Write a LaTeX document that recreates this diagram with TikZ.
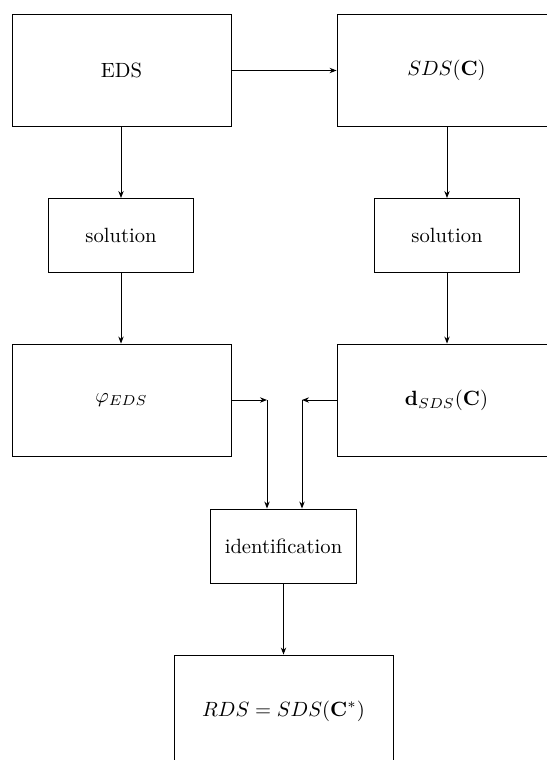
\documentclass[tikz,border=0pt]{standalone}
\usepackage{amsmath}
\usetikzlibrary{arrows.meta}
\begin{document}
\begin{tikzpicture}[x=0.485pt,y=-0.485pt,
  bigbox/.style={draw, line width=0.45pt, minimum width=106.2pt, minimum height=54.3pt, inner sep=0pt},
  smallbox/.style={draw, line width=0.45pt, minimum width=70.6pt, minimum height=35.9pt, inner sep=0pt},
  conn/.style={line width=0.45pt, -{Stealth[length=3.4pt,width=2.6pt]}}]
\clip (0,0) rectangle (547,760);
\node[bigbox] (eds) at (121.5,70.5) {EDS};
\node[bigbox] (sds) at (446.5,70.5) {$SDS(\mathbf{C})$};
\node[smallbox] (solL) at (121,235.5) {solution};
\node[smallbox] (solR) at (447,235.5) {solution};
\node[bigbox] (phi) at (121.5,400) {$\varphi_{EDS}$};
\node[bigbox] (d) at (446.5,400) {$\mathbf{d}_{SDS}(\mathbf{C})$};
\node[smallbox] (ident) at (283.5,546) {identification};
\node[bigbox] (rds) at (283.5,711) {$RDS = SDS(\mathbf{C}^{*})$};
\coordinate (cL) at (267,400);
\coordinate (cR) at (302,400);
\draw[conn] (eds.east) -- (sds.west);
\draw[conn] (eds.south -| solL.north) -- (solL.north);
\draw[conn] (solL.south) -- (phi.north -| solL.south);
\draw[conn] (sds.south -| solR.north) -- (solR.north);
\draw[conn] (solR.south) -- (d.north -| solR.south);
\draw[conn] (phi.east) -- (cL);
\draw[conn] (cL) -- (cL |- ident.north);
\draw[conn] (d.west) -- (cR);
\draw[conn] (cR) -- (cR |- ident.north);
\draw[conn] (ident.south) -- (rds.north);
\end{tikzpicture}
\end{document}
